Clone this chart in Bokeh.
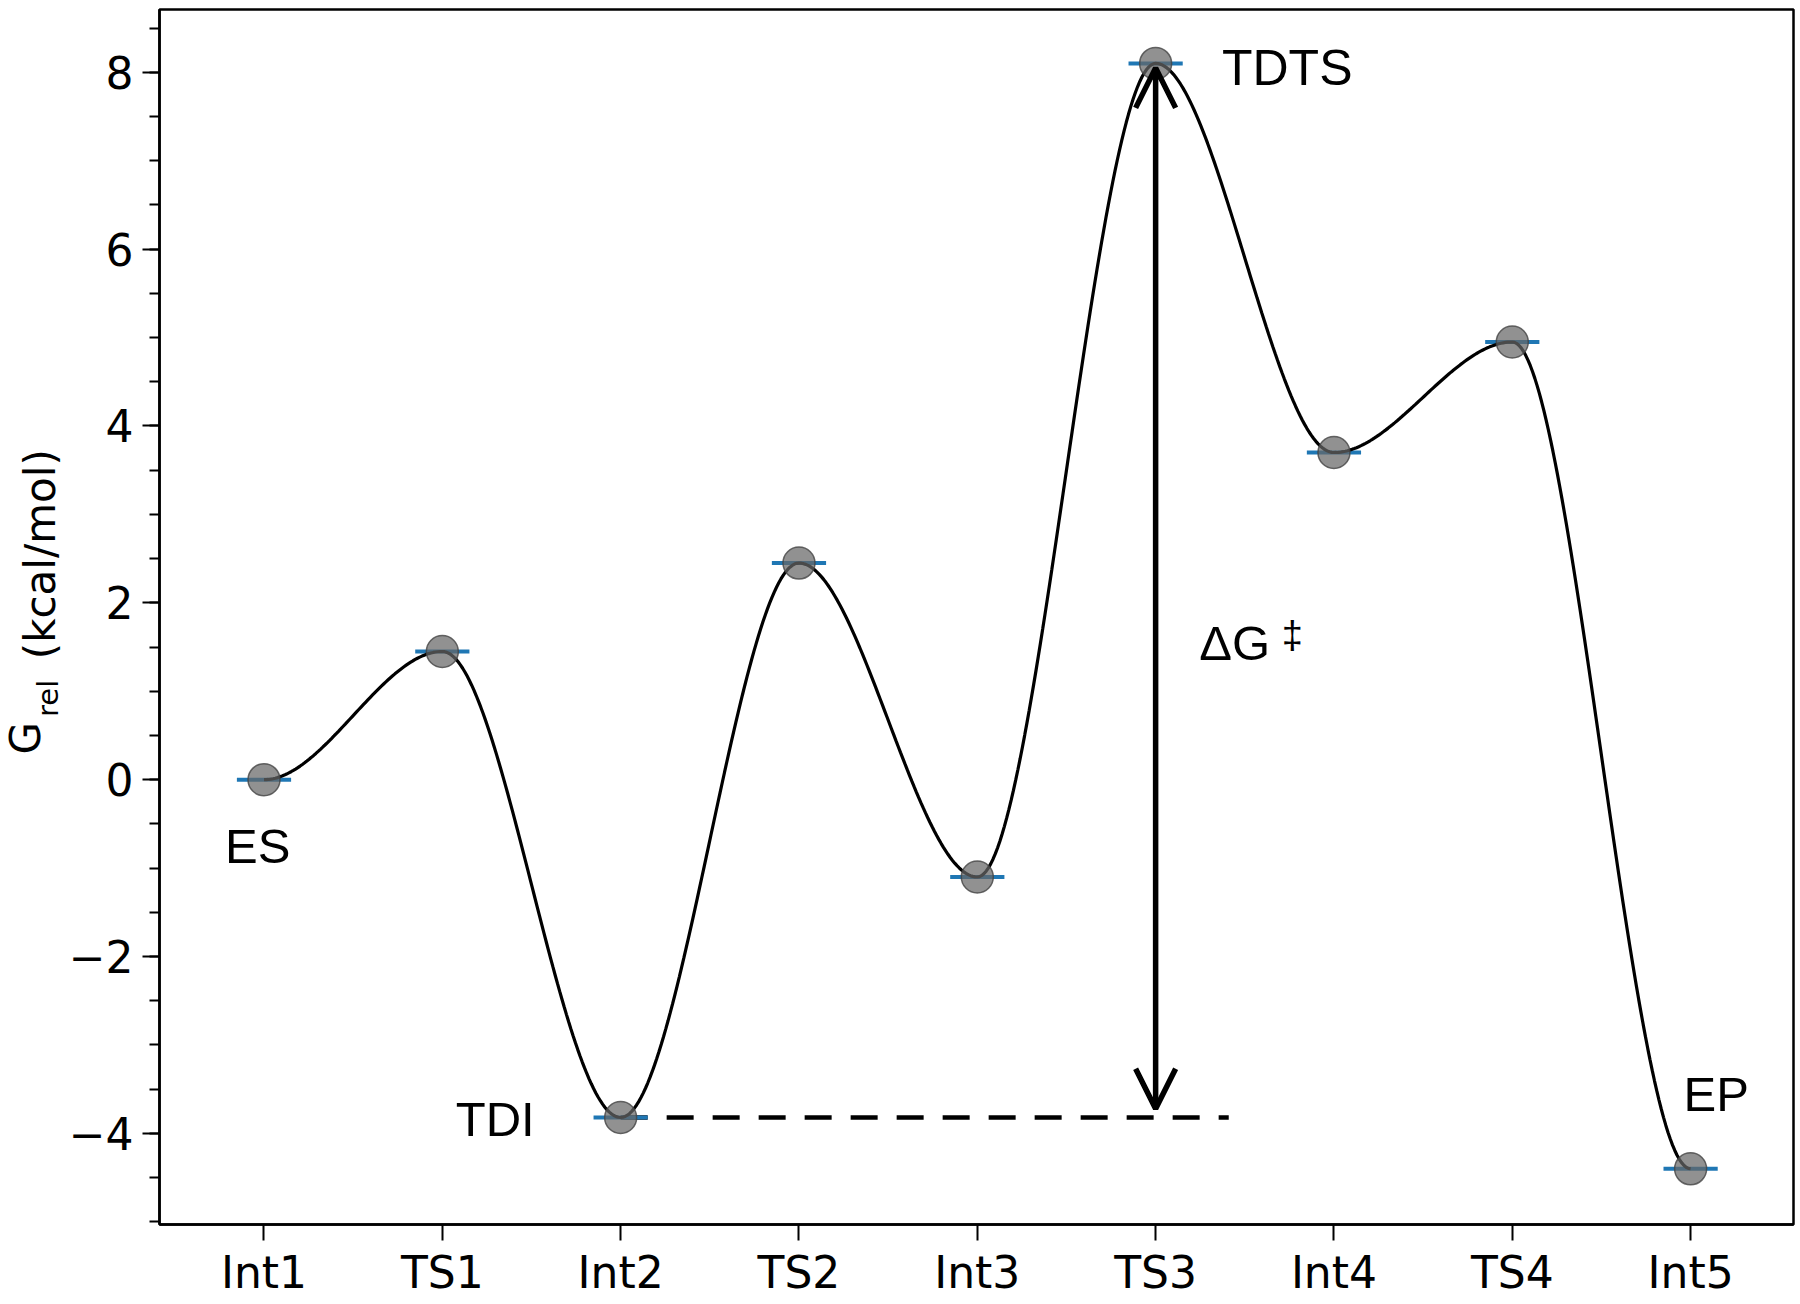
import numpy as np
from bokeh.plotting import figure
from bokeh.layouts import row
from bokeh.models import FixedTicker, Label, Arrow, OpenHead, Range1d
from bokeh.core.properties import value
from bokeh.embed import file_html
from bokeh.resources import INLINE

# ---- data ----
states = ["Int1", "TS1", "Int2", "TS2", "Int3", "TS3", "Int4", "TS4", "Int5"]
g_rel = [0.0, 1.45, -3.82, 2.45, -1.10, 8.10, 3.70, 4.95, -4.40]
y_major = [-4, -2, 0, 2, 4, 6, 8]
y_minor = [v / 2 for v in range(-10, 18)]
ylabel_parts = ["G", "rel", "(kcal/mol)"]

idx = list(range(len(states)))

H = 1302
WL = 64          # width of the strip that carries the y-axis title
W = 1798 - WL
TOP, BOTTOM = 9, 78

yr = Range1d(-5.03, 8.71)

p = figure(width=W, height=H, output_backend="svg", toolbar_location=None,
           x_range=Range1d(-0.586, 8.577), y_range=yr,
           min_border_left=159 - WL, min_border_right=5, min_border_top=TOP,
           min_border_bottom=BOTTOM)
p.background_fill_color = "white"
p.border_fill_color = "white"
p.xgrid.visible = False
p.ygrid.visible = False
p.outline_line_color = "black"
p.outline_line_width = 2.5
p.outline_line_alpha = 1.0

for ax in (p.xaxis[0], p.yaxis[0]):
    ax.axis_line_width = 2.5
    ax.axis_line_color = "black"
    ax.major_tick_line_width = 2
    ax.minor_tick_line_width = 2
    ax.major_tick_in = 0
    ax.minor_tick_in = 0
    ax.major_label_text_font = "DejaVu Sans"
    ax.major_label_text_font_size = "44px"
    ax.major_label_text_color = "black"

p.xaxis.ticker = FixedTicker(ticks=idx, minor_ticks=[])
p.xaxis.major_label_overrides = {i: s for i, s in zip(idx, states)}
p.xaxis.major_tick_out = 16
p.xaxis.minor_tick_out = 0
p.xaxis.major_label_standoff = 6

p.yaxis.ticker = FixedTicker(ticks=y_major, minor_ticks=y_minor)
p.yaxis.major_label_overrides = {v: (("\u2212" + str(-v)) if v < 0 else str(v)) for v in y_major}
p.yaxis.major_tick_out = 17
p.yaxis.minor_tick_out = 10
p.yaxis.major_label_standoff = 9

# smooth connecting curve (zero slope at each state)
cx, cy = [], []
t = np.linspace(0, 1, 80)
s = 3 * t**2 - 2 * t**3
for i in range(len(g_rel) - 1):
    cx.extend(list(i + t))
    cy.extend(list(g_rel[i] + (g_rel[i + 1] - g_rel[i]) * s))

i_tdi = 2
i_tdts = 5
p.line([idx[i_tdi], 5.41], [g_rel[i_tdi], g_rel[i_tdi]], line_color="black",
       line_width=4.5, line_dash="27 19")

hw = 0.152
p.segment(x0=[x - hw for x in idx], x1=[x + hw for x in idx], y0=g_rel, y1=g_rel,
          line_color="#1f77b4", line_width=4)

p.line(cx, cy, line_color="black", line_width=3.2)

p.add_layout(Arrow(x_start=idx[i_tdts], y_start=g_rel[i_tdi] + 0.10,
                   x_end=idx[i_tdts], y_end=g_rel[i_tdts] - 0.05,
                   line_width=5.5, line_color="black",
                   start=OpenHead(size=40, line_width=5.5, line_color="black"),
                   end=OpenHead(size=40, line_width=5.5, line_color="black")))

p.scatter(idx, g_rel, size=32, fill_color="#666666", fill_alpha=0.72,
          line_color="#444444", line_alpha=0.8, line_width=1.5)

def add_label(x, y, text, font, size, **kw):
    p.add_layout(Label(x=x, y=y, text=text, text_font=font, text_font_size=size,
                       text_color="black", text_baseline="alphabetic",
                       text_align="left", **kw))

add_label(5.372, 8.05, "TDTS", "Liberation Sans", "50px")
add_label(-0.218, -0.75, "ES", "Liberation Sans", "49px")
add_label(1.075, -3.835, "TDI", "Liberation Sans", "49px")
add_label(7.96, -3.55, "EP", "Liberation Sans", "49px")
add_label(5.245, 1.545, "\u0394G", "Liberation Sans", "49px")
add_label(5.707, 1.64, "\u2021", "Liberation Sans", "38px")

# ---- y-axis title strip: G_rel (kcal/mol), shares the main y scale ----
lab = figure(width=WL, height=H, output_backend="svg", toolbar_location=None,
             x_range=Range1d(0, WL), y_range=yr,
             x_axis_type=None, y_axis_type=None,
             min_border_left=0, min_border_right=0, min_border_top=TOP,
             min_border_bottom=BOTTOM)
lab.outline_line_color = None
lab.background_fill_color = "white"
lab.border_fill_color = "white"
lab.text(x=[24.5], y=[0.469], text=[ylabel_parts[0]], angle=np.pi / 2,
         text_font=value("DejaVu Sans"), text_font_size=value("42px"),
         text_baseline="middle", text_align="center", text_color="black")
lab.text(x=[47], y=[0.92], text=[ylabel_parts[1]], angle=np.pi / 2,
         text_font=value("DejaVu Sans"), text_font_size=value("29px"),
         text_baseline="middle", text_align="center", text_color="black")
lab.text(x=[39.5], y=[2.55], text=[ylabel_parts[2]], angle=np.pi / 2,
         text_font=value("DejaVu Sans"), text_font_size=value("42px"),
         text_baseline="middle", text_align="center", text_color="black")

layout = row(lab, p, spacing=0)
open("out.html", "w").write(file_html(layout, INLINE))
